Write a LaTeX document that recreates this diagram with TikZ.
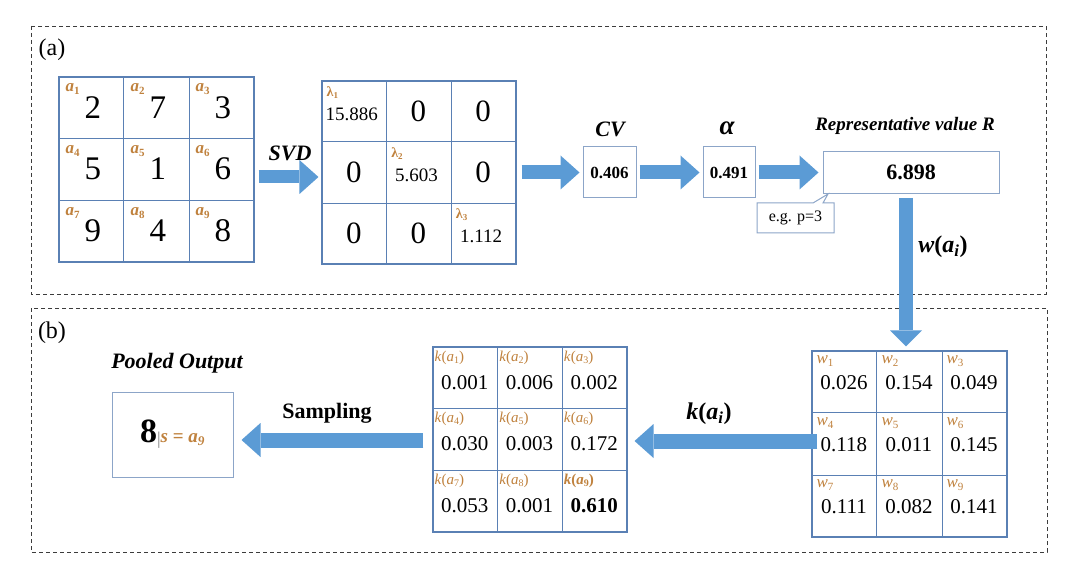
\documentclass[tikz,border=0pt]{standalone}
\usepackage{fontspec}
\setmainfont{Liberation Serif}
\usetikzlibrary{arrows.meta,calc}
\definecolor{ablue}{HTML}{5B9BD5}
\definecolor{gblue}{HTML}{5A80B4}
\definecolor{lblue}{HTML}{8CA5C8}
\definecolor{orng}{HTML}{C0823E}
\definecolor{dgray}{HTML}{3C3C3C}
\newcommand{\fsz}[1]{\fontsize{#1}{#1}\selectfont}
\newcommand{\lsub}[2]{\raisebox{-#1}{\fsz{11}#2}}
\begin{document}
\begin{tikzpicture}[x=1pt,y=-1pt,
  panel/.style={draw=dgray, line width=0.9pt, dash pattern=on 4pt off 3pt},
  gbox/.style={draw=gblue, line width=1.1pt, inner sep=0pt},
  gline/.style={draw=gblue, line width=1.1pt},
  vbox/.style={draw=lblue, line width=1pt, inner sep=0pt},
  barrow/.style={draw=ablue, line width=14pt, -{Triangle[width=34pt,length=19pt,line width=0pt]}},
  bihead/.style={font=\fsz{#1}\bfseries\itshape, inner sep=0pt},
  olab/.style={anchor=west, text=orng, inner sep=0pt},
]
\fill[white] (0,0) rectangle (1080,583);
\path[use as bounding box] (0,0) rectangle (1080,583);

% panels
\draw[panel] (31,26) rectangle (1046,294);
\draw[panel] (31,308) rectangle (1047,552);
\node[font=\fsz{24}, inner sep=0pt] (pa) at (52,50) {(a)};
\node[font=\fsz{24}, inner sep=0pt] (pb) at (52,333) {(b)};

% matrix 1
\node[gbox, minimum width=195pt, minimum height=185pt] (m1) at (156.5,169.5) {};
\foreach \f in {1,2} {
  \draw[gline] ($(m1.north west)!\f/3!(m1.north east)$) -- ($(m1.south west)!\f/3!(m1.south east)$);
  \draw[gline] ($(m1.north west)!\f/3!(m1.south west)$) -- ($(m1.north east)!\f/3!(m1.south east)$);
}
\foreach \v [count=\n from 0] in {2,7,3,5,1,6,9,4,8} {
  \pgfmathtruncatemacro{\rr}{\n/3}
  \pgfmathtruncatemacro{\cc}{mod(\n,3)}
  \pgfmathtruncatemacro{\kk}{\n+1}
  \node[font=\fsz{33}, inner sep=0pt] (m1v\kk) at ($(m1.north west)+({(\cc+0.5)*65+2},{(\rr+0.5)*61.67})$) {\v};
  \node[olab, font=\fsz{17}\bfseries\itshape] (m1l\kk) at ($(m1.north west)+({\cc*65+7},{\rr*61.67+13})$) {a\lsub{3pt}{\bfseries\upshape\kk}};
}

% matrix 2
\node[gbox, minimum width=194pt, minimum height=183pt] (m2) at (419,172.5) {};
\foreach \f in {1,2} {
  \draw[gline] ($(m2.north west)!\f/3!(m2.north east)$) -- ($(m2.south west)!\f/3!(m2.south east)$);
  \draw[gline] ($(m2.north west)!\f/3!(m2.south west)$) -- ($(m2.north east)!\f/3!(m2.south east)$);
}
\foreach \rr/\cc in {0/1,0/2,1/0,1/2,2/0,2/1} {
  \node[font=\fsz{31}, inner sep=0pt] (z\rr\cc) at ($(m2.north west)+({(\cc+0.5)*64.67},{(\rr+0.5)*61})$) {0};
}
\foreach \v [count=\n from 0] in {15.886,5.603,1.112} {
  \pgfmathtruncatemacro{\kk}{\n+1}
  \node[font=\fsz{19}, inner sep=0pt] (lv\kk) at ($(m2.north west)+({(\n+0.5)*64.67-2},{(\n+0.5)*61+3})$) {\v};
  \node[olab, font=\fsz{14}\bfseries] (ll\kk) at ($(m2.north west)+({\n*64.67+5},{\n*61+12})$) {λ\raisebox{-2pt}{\fsz{9}\kk}};
}

% CV, alpha, R
\node[vbox, minimum width=53pt, minimum height=51pt, font=\fsz{17}\bfseries] (cv) at (609.5,172.5) {0.406};
\node[vbox, minimum width=52pt, minimum height=51pt, font=\fsz{17}\bfseries] (al) at (729,172.5) {0.491};
\node[vbox, minimum width=176pt, minimum height=42pt, font=\fsz{22}\bfseries] (R) at (911,172.5) {6.898};
\node[bihead=22] (tsvd) at (290,153) {SVD};
\node[bihead=22] (tcv) at (610,129) {CV};
\node[bihead=27] (tal) at (727,128) {α};
\node[bihead=19] (tR) at (905,126) {Representative value R};

% callout
\draw[lblue, line width=1pt, fill=white] (757,203) -- (813,203) -- (828,194) -- (823,203) -- (834,203) -- (834,233) -- (757,233) -- cycle;
\node[font=\fsz{16}, inner sep=0pt] (cal) at (795.5,218) {e.g. p=3};

% W matrix
\node[gbox, minimum width=195pt, minimum height=186pt] (W) at (909.5,444) {};
\foreach \f in {1,2} {
  \draw[gline] ($(W.north west)!\f/3!(W.north east)$) -- ($(W.south west)!\f/3!(W.south east)$);
  \draw[gline] ($(W.north west)!\f/3!(W.south west)$) -- ($(W.north east)!\f/3!(W.south east)$);
}
\foreach \v [count=\n from 0] in {0.026,0.154,0.049,0.118,0.011,0.145,0.111,0.082,0.141} {
  \pgfmathtruncatemacro{\rr}{\n/3}
  \pgfmathtruncatemacro{\cc}{mod(\n,3)}
  \pgfmathtruncatemacro{\kk}{\n+1}
  \node[font=\fsz{21}, inner sep=0pt] (wv\kk) at ($(W.north west)+({(\cc+0.5)*65},{(\rr+0.5)*62+1})$) {\v};
  \node[olab, font=\fsz{17}\itshape] (wl\kk) at ($(W.north west)+({\cc*65+5},{\rr*62+11})$) {w\lsub{3pt}{\upshape\kk}};
}

% K matrix
\node[gbox, minimum width=194pt, minimum height=185pt] (K) at (530,439.5) {};
\foreach \f in {1,2} {
  \draw[gline] ($(K.north west)!\f/3!(K.north east)$) -- ($(K.south west)!\f/3!(K.south east)$);
  \draw[gline] ($(K.north west)!\f/3!(K.south west)$) -- ($(K.north east)!\f/3!(K.south east)$);
}
\foreach \v [count=\n from 0] in {0.001,0.006,0.002,0.030,0.003,0.172,0.053,0.001,\textbf{0.610}} {
  \pgfmathtruncatemacro{\rr}{\n/3}
  \pgfmathtruncatemacro{\cc}{mod(\n,3)}
  \pgfmathtruncatemacro{\kk}{\n+1}
  \node[font=\fsz{21}, inner sep=0pt] (kv\kk) at ($(K.north west)+({(\cc+0.5)*64.67},{(\rr+0.5)*61.67+5})$) {\v};
  \node[olab, font=\fsz{15}] (kl\kk) at ($(K.north west)+({\cc*64.67+2},{\rr*61.67+11})$) {\ifnum\kk=9 \bfseries\fi\textit{k}(\textit{a}\raisebox{-2pt}{\fsz{10}\kk})};
}

% pooled output
\node[vbox, minimum width=121pt, minimum height=85pt] (P) at (172.5,434.5) {\fsz{34}\bfseries 8\raisebox{-2pt}{\color{gray}\fsz{18}\mdseries|}\color{orng}\fsz{19}\bfseries\itshape s \upshape= \itshape a\textsubscript{9}};
\node[bihead=22] (tP) at (177,363) {Pooled Output};

% connector coordinates
\coordinate (ya) at (0,177);
\coordinate (yb) at (0,172.5);
\coordinate (dx) at (906,0);
\coordinate (yk) at (0,441);
\coordinate (ys) at (0,440);

% block arrows
\draw[barrow, line width=13pt, shorten <=4pt, shorten >=3pt] (m1.east |- ya) -- (m2.west |- ya);
\draw[barrow, shorten <=5pt, shorten >=3pt] (m2.east |- yb) -- (cv.west |- yb);
\draw[barrow, shorten <=3pt, shorten >=3pt] (cv.east |- yb) -- (al.west |- yb);
\draw[barrow, shorten <=3pt, shorten >=4pt] (al.east |- yb) -- (R.west |- yb);
\draw[barrow, -{Triangle[width=32pt,length=16pt,line width=0pt]}, shorten <=4pt, shorten >=4pt] (R.south -| dx) -- (W.north -| dx);
\draw[barrow, line width=15pt, shorten <=-6pt, shorten >=7pt] (W.west |- yk) -- (K.east |- yk);
\draw[barrow, line width=15pt, shorten <=9pt, shorten >=8pt] (K.west |- ys) -- (P.east |- ys);

% arrow labels
\node[font=\fsz{24}\bfseries, inner sep=0pt] (tw) at (943,247) {\textit{w}(\textit{a}\textsubscript{\textit{i}})};
\node[font=\fsz{24}\bfseries, inner sep=0pt] (tk) at (709,414) {\textit{k}(\textit{a}\textsubscript{\textit{i}})};
\node[font=\fsz{22}\bfseries, inner sep=0pt] (ts) at (327,413) {Sampling};
\end{tikzpicture}
\end{document}
